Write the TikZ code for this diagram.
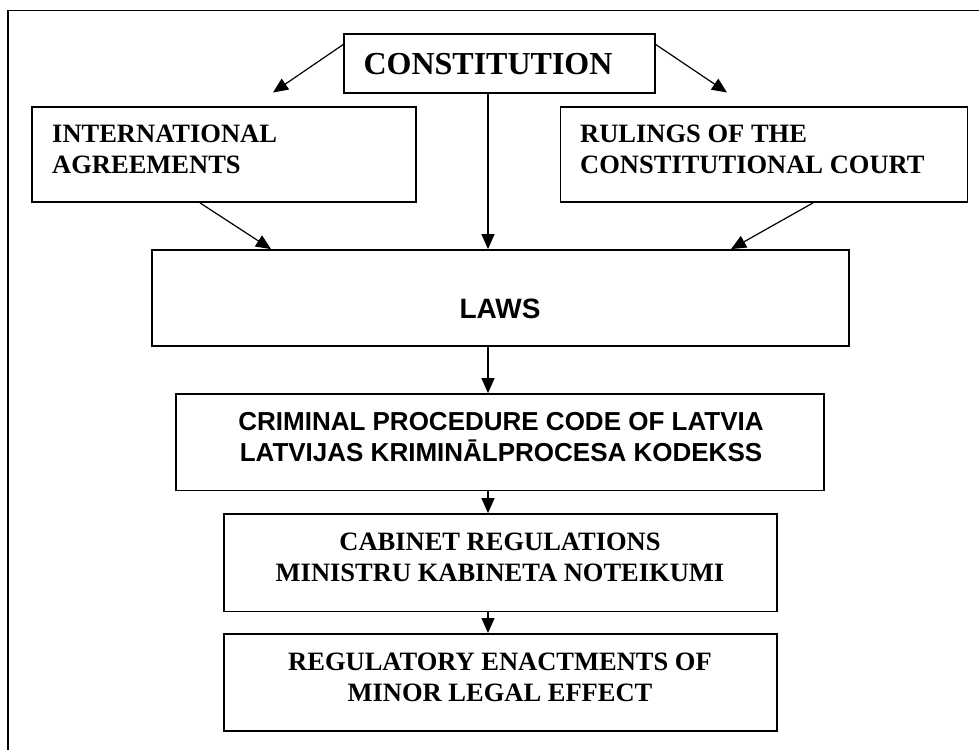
\documentclass[tikz,border=0pt]{standalone}
\usepackage{fontspec}
\setmainfont{Liberation Serif}
\setsansfont{Liberation Sans}
\usetikzlibrary{arrows.meta}
\begin{document}
\begin{tikzpicture}[x=1pt,y=-1pt,
  box/.style={draw,line width=1.8pt,inner sep=0pt},
  arr/.style={line width=1.2pt,-{Triangle[length=15pt,width=13pt]}},
  ser/.style={font=\fontsize{26.5}{31}\selectfont\bfseries,inner sep=0pt},
  san/.style={font=\fontsize{26}{31}\selectfont\sffamily\bfseries,inner sep=0pt,align=center},
]
\useasboundingbox (0,0) rectangle (979,749);
\draw[line width=1.4pt] (8,770) -- (8,10.5) -- (990,10.5);
% boxes
\node[box,minimum width=311pt,minimum height=59pt] (const) at (499.5,63.5) {};
\node[box,minimum width=384pt,minimum height=95pt] (intl) at (224,154.5) {};
\node[box,minimum width=407pt,minimum height=95pt] (rul) at (764,154.5) {};
\node[box,minimum width=697pt,minimum height=96pt] (laws) at (500.5,298) {};
\node[box,minimum width=648pt,minimum height=96.5pt] (crim) at (500,442.3) {};
\node[box,minimum width=553pt,minimum height=97.5pt] (cab) at (500.5,562.8) {};
\node[box,minimum width=553pt,minimum height=97pt] (reg) at (500.5,682.4) {};
% texts
\node[ser,font=\fontsize{32}{36}\selectfont\bfseries] (constT) at (488,64.5) {CONSTITUTION};
\node[ser,align=left,anchor=west] (intlT) at (52,149) {INTERNATIONAL\\AGREEMENTS};
\node[ser,align=left,anchor=west] (rulT) at (580,149) {RULINGS OF THE\\CONSTITUTIONAL COURT};
\node[san,font=\fontsize{28}{31}\selectfont\sffamily\bfseries] (lawsT) at (500,308.5) {LAWS};
\node[san] (crimT) at (501,437.5) {CRIMINAL PROCEDURE CODE OF LATVIA\\LATVIJAS KRIMINĀLPROCESA KODEKSS};
\node[ser,align=center] (cabT) at (500,557.5) {CABINET REGULATIONS\\MINISTRU KABINETA NOTEIKUMI};
\node[ser,align=center] (regT) at (500,677.5) {REGULATORY ENACTMENTS OF\\MINOR LEGAL EFFECT};
% connector end points
\coordinate (tipL) at (273,92.5);
\coordinate (tipR) at (727,92.5);
% arrows
\draw[arr] ([yshift=-11.5pt]const.north west) -- (tipL);
\draw[arr] ([yshift=-11.5pt]const.north east) -- (tipR);
\draw[arr] ([xshift=-11.5pt]const.south) -- ([xshift=-11.5pt]const.south |- laws.north);
\draw[arr] ([xshift=-24pt]intl.south) -- ([xshift=-229.5pt]laws.north);
\draw[arr] ([xshift=49pt]rul.south) -- ([xshift=230.5pt]laws.north);
\draw[arr] ([xshift=-12.5pt]laws.south) -- ([xshift=-12.5pt]laws.south |- crim.north);
\draw[arr] ([xshift=-12pt]crim.south) -- ([xshift=-12pt]crim.south |- cab.north);
\draw[arr] ([xshift=-12.5pt]cab.south) -- ([xshift=-12.5pt]cab.south |- reg.north);
\end{tikzpicture}
\end{document}
